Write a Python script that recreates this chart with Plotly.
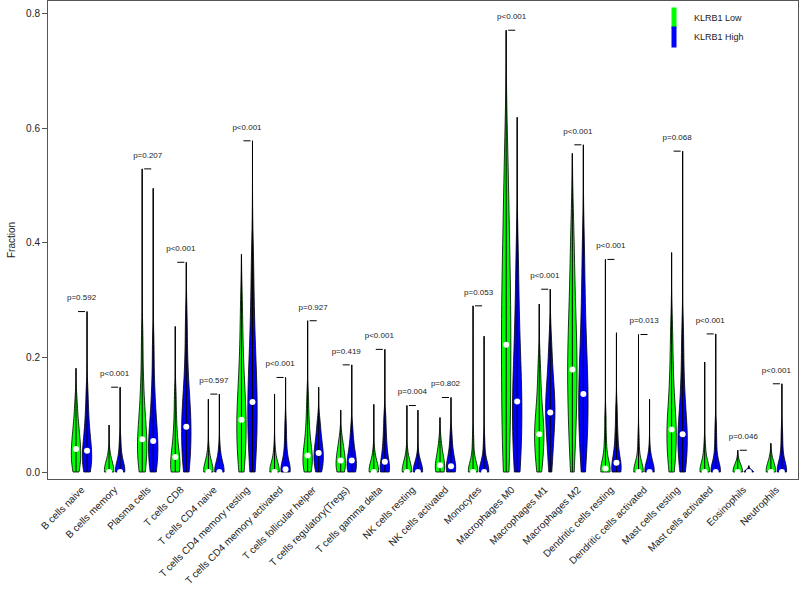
import numpy as np
import plotly.graph_objects as go

CELL_TYPES = [
    "B cells naive", "B cells memory", "Plasma cells", "T cells CD8", "T cells CD4 naive",
    "T cells CD4 memory resting", "T cells CD4 memory activated", "T cells follicular helper",
    "T cells regulatory(Tregs)", "T cells gamma delta", "NK cells resting", "NK cells activated",
    "Monocytes", "Macrophages M0", "Macrophages M1", "Macrophages M2", "Dendritic cells resting",
    "Dendritic cells activated", "Mast cells resting", "Mast cells activated", "Eosinophils", "Neutrophils",
]
P_LABELS = [
    "p=0.592", "p<0.001", "p=0.207", "p<0.001", "p=0.597", "p<0.001", "p<0.001", "p=0.927",
    "p=0.419", "p<0.001", "p=0.004", "p=0.802", "p=0.053", "p<0.001", "p<0.001", "p<0.001",
    "p<0.001", "p=0.013", "p=0.068", "p<0.001", "p=0.046", "p<0.001",
]
LOW_MAX = [0.181, 0.082, 0.529, 0.254, 0.127, 0.380, 0.136, 0.264, 0.108, 0.118, 0.116,
           0.095, 0.290, 0.771, 0.293, 0.556, 0.371, 0.240, 0.383, 0.192, 0.038, 0.050]
HIGH_MAX = [0.280, 0.148, 0.495, 0.366, 0.136, 0.578, 0.165, 0.148, 0.187, 0.214, 0.108,
            0.130, 0.237, 0.619, 0.319, 0.571, 0.243, 0.127, 0.560, 0.241, 0.011, 0.154]
LOW_MEDIAN = [0.040, 0.0, 0.057, 0.026, 0.0, 0.091, 0.0, 0.029, 0.020, 0.0, 0.0,
              0.012, 0.0, 0.222, 0.066, 0.179, 0.006, 0.0, 0.074, 0.0, 0.0, 0.0]
HIGH_MEDIAN = [0.037, 0.0, 0.054, 0.079, 0.0, 0.122, 0.005, 0.033, 0.020, 0.018, 0.0,
               0.010, 0.0, 0.123, 0.104, 0.136, 0.016, 0.0, 0.066, 0.0, 0.0, 0.0]

LOW_SAMPLES = [
    [0, 0.005, 0.012, 0.02, 0.027, 0.033, 0.04, 0.047, 0.055, 0.063, 0.072, 0.085, 0.1, 0.125],
    [0, 0, 0, 0, 0, 0, 0, 0, 0.004, 0.01, 0.018, 0.03],
    [0, 0.008, 0.018, 0.028, 0.038, 0.048, 0.057, 0.066, 0.078, 0.092, 0.11, 0.135, 0.17, 0.23],
    [0, 0, 0, 0.005, 0.012, 0.02, 0.026, 0.034, 0.045, 0.058, 0.075, 0.1, 0.135],
    [0, 0, 0, 0, 0, 0, 0, 0, 0.005, 0.012, 0.022, 0.035],
    [0, 0.015, 0.035, 0.05, 0.065, 0.078, 0.091, 0.105, 0.12, 0.138, 0.16, 0.19, 0.23, 0.29],
    [0, 0, 0, 0, 0, 0, 0, 0, 0, 0.005, 0.012, 0.025, 0.04],
    [0, 0, 0.006, 0.013, 0.02, 0.025, 0.029, 0.035, 0.043, 0.052, 0.065, 0.08, 0.1, 0.13],
    [0, 0, 0.004, 0.009, 0.014, 0.02, 0.025, 0.031, 0.038, 0.047, 0.06],
    [0, 0, 0, 0, 0, 0, 0, 0, 0.005, 0.012, 0.022, 0.035],
    [0, 0, 0, 0, 0, 0, 0, 0, 0.005, 0.012, 0.02, 0.032],
    [0, 0, 0, 0.004, 0.008, 0.012, 0.017, 0.023, 0.03, 0.04, 0.055],
    [0, 0, 0, 0, 0, 0, 0, 0, 0.008, 0.02, 0.035, 0.06],
    [0, 0.03, 0.07, 0.11, 0.15, 0.19, 0.222, 0.255, 0.29, 0.33, 0.37, 0.42, 0.48, 0.56],
    [0, 0.01, 0.025, 0.038, 0.05, 0.058, 0.066, 0.075, 0.085, 0.097, 0.11, 0.13, 0.155, 0.19],
    [0.01, 0.05, 0.08, 0.11, 0.135, 0.158, 0.179, 0.2, 0.225, 0.25, 0.28, 0.32, 0.37, 0.43],
    [0, 0, 0, 0, 0, 0, 0.006, 0.012, 0.02, 0.03, 0.045, 0.065, 0.095],
    [0, 0, 0, 0, 0, 0, 0, 0, 0.008, 0.018, 0.035, 0.06],
    [0, 0.012, 0.028, 0.042, 0.055, 0.065, 0.074, 0.085, 0.098, 0.115, 0.135, 0.165, 0.2, 0.25],
    [0, 0, 0, 0, 0, 0, 0, 0, 0.006, 0.015, 0.028, 0.045],
    [0, 0, 0, 0, 0, 0, 0, 0, 0, 0.003, 0.008, 0.015],
    [0, 0, 0, 0, 0, 0, 0, 0, 0, 0.004, 0.01, 0.02],
]
HIGH_SAMPLES = [
    [0, 0.004, 0.01, 0.017, 0.024, 0.031, 0.037, 0.044, 0.052, 0.062, 0.075, 0.09, 0.11, 0.14],
    [0, 0, 0, 0, 0, 0, 0, 0.005, 0.012, 0.022, 0.035, 0.055],
    [0, 0.008, 0.017, 0.027, 0.036, 0.046, 0.054, 0.063, 0.075, 0.09, 0.108, 0.13, 0.165, 0.22],
    [0, 0.01, 0.025, 0.04, 0.055, 0.067, 0.079, 0.09, 0.103, 0.118, 0.135, 0.16, 0.2, 0.26],
    [0, 0, 0, 0, 0, 0, 0, 0, 0.006, 0.014, 0.025, 0.04],
    [0, 0.02, 0.045, 0.065, 0.085, 0.105, 0.122, 0.14, 0.16, 0.185, 0.21, 0.25, 0.3, 0.37],
    [0, 0, 0, 0, 0, 0, 0.005, 0.01, 0.018, 0.028, 0.042, 0.06, 0.085],
    [0, 0.004, 0.01, 0.017, 0.023, 0.028, 0.033, 0.038, 0.045, 0.053, 0.062, 0.075, 0.09],
    [0, 0, 0.004, 0.009, 0.015, 0.02, 0.026, 0.033, 0.042, 0.055, 0.075],
    [0, 0, 0, 0.004, 0.01, 0.018, 0.027, 0.038, 0.052, 0.07, 0.095],
    [0, 0, 0, 0, 0, 0, 0, 0, 0, 0.005, 0.012, 0.025],
    [0, 0, 0, 0.003, 0.007, 0.01, 0.016, 0.023, 0.032, 0.045, 0.065],
    [0, 0, 0, 0, 0, 0, 0, 0, 0.008, 0.018, 0.032, 0.055],
    [0, 0.015, 0.04, 0.065, 0.085, 0.105, 0.123, 0.142, 0.165, 0.19, 0.22, 0.26, 0.31, 0.38],
    [0.005, 0.03, 0.05, 0.068, 0.082, 0.094, 0.104, 0.114, 0.125, 0.138, 0.152, 0.17, 0.195, 0.23],
    [0.005, 0.035, 0.06, 0.08, 0.1, 0.118, 0.136, 0.155, 0.175, 0.2, 0.23, 0.27, 0.32, 0.39],
    [0, 0, 0, 0, 0.005, 0.01, 0.016, 0.023, 0.032, 0.045, 0.06, 0.08, 0.11],
    [0, 0, 0, 0, 0, 0, 0, 0, 0.005, 0.012, 0.022, 0.035],
    [0, 0.01, 0.024, 0.037, 0.048, 0.058, 0.066, 0.076, 0.088, 0.105, 0.125, 0.15, 0.19, 0.24],
    [0, 0, 0, 0, 0, 0, 0, 0.008, 0.02, 0.035, 0.055, 0.08],
    [0, 0, 0, 0, 0, 0, 0, 0, 0, 0, 0.002, 0.005],
    [0, 0, 0, 0, 0, 0, 0, 0.006, 0.015, 0.028, 0.045, 0.07],
]

GREEN = "#00FF00"
BLUE = "#0000FF"
FONT = "Liberation Sans, Arial, sans-serif"

n = len(CELL_TYPES)
low_x = [3 * i + 1 for i in range(n)]
high_x = [3 * i + 2 for i in range(n)]
centers = [x + 0.5 for x in low_x]

fig = go.Figure()

for xs, samples, vmax, color in ((low_x, LOW_SAMPLES, LOW_MAX, GREEN),
                                 (high_x, HIGH_SAMPLES, HIGH_MAX, BLUE)):
    for x, s, m in zip(xs, samples, vmax):
        bw = min(max(0.015, 0.5 * float(np.std(s))), 0.3 * m)
        fig.add_trace(go.Violin(
            x=[x] * len(s), y=s, span=[0, m], spanmode="manual", bandwidth=bw,
            scalemode="width", width=0.85, fillcolor=color,
            line=dict(color="black", width=0.8), points=False, showlegend=False,
            hoverinfo="skip", opacity=1,
        ))

# central lines (min to max)
for xs, vmax in ((low_x, LOW_MAX), (high_x, HIGH_MAX)):
    lx, ly = [], []
    for x, m in zip(xs, vmax):
        lx += [x, x, None]
        ly += [0, m, None]
    fig.add_trace(go.Scatter(x=lx, y=ly, mode="lines", line=dict(color="black", width=1),
                             showlegend=False, hoverinfo="skip"))

# median dots
fig.add_trace(go.Scatter(x=low_x + high_x, y=LOW_MEDIAN + HIGH_MEDIAN, mode="markers",
                         marker=dict(color="white", size=6, line=dict(width=0)),
                         showlegend=False, hoverinfo="skip"))

# brackets and p labels
bx, by, tx, ty = [], [], [], []
for lx_, hx_, lm, hm in zip(low_x, high_x, LOW_MAX, HIGH_MAX):
    top = max(lm, hm)
    bx += [lx_ + 0.18, hx_ - 0.18, None]
    by += [top, top, None]
    tx.append((lx_ + hx_) / 2)
    ty.append(top + 0.023)
fig.add_trace(go.Scatter(x=bx, y=by, mode="lines", line=dict(color="black", width=1),
                         showlegend=False, hoverinfo="skip"))
fig.add_trace(go.Scatter(x=tx, y=ty, mode="text", text=P_LABELS, textposition="middle center",
                         textfont=dict(size=8, color="#222", family=FONT),
                         showlegend=False, hoverinfo="skip"))

# legend entries
for name, color in (("KLRB1 Low", GREEN), ("KLRB1 High", BLUE)):
    fig.add_trace(go.Scatter(x=[None], y=[None], mode="markers", name=name,
                             marker=dict(symbol="line-ns", size=15, color=color,
                                         line=dict(width=10, color=color))))

fig.update_layout(
    width=800, height=593,
    margin=dict(l=48, r=2, t=1, b=114),
    paper_bgcolor="white", plot_bgcolor="white",
    violinmode="overlay",
    font=dict(family=FONT, size=10, color="#222"),
    legend=dict(x=0.808, y=0.995, xanchor="left", yanchor="top", bgcolor="rgba(0,0,0,0)",
                font=dict(size=9, color="#222"), tracegroupgap=0),
    xaxis=dict(range=[-1.54, 66.46], tickvals=centers, ticktext=CELL_TYPES, tickangle=-45,
               showline=True, mirror=True, linecolor="#555", linewidth=1, ticks="",
               showgrid=False, zeroline=False, tickfont=dict(size=10, color="#222")),
    yaxis=dict(range=[-0.0122, 0.822], tickvals=[0, 0.2, 0.4, 0.6, 0.8],
               ticktext=["0.0", "0.2", "0.4", "0.6", "0.8"], ticks="outside", ticklen=5,
               tickcolor="#555", showline=True, mirror=True, linecolor="#555", linewidth=1,
               showgrid=False, zeroline=False,
               title=dict(text="Fraction", font=dict(size=10), standoff=8),
               tickfont=dict(size=10, color="#222")),
)

fig.write_html("out.html", post_script="document.body.style.margin='0px';",
               config={"displayModeBar": False})
